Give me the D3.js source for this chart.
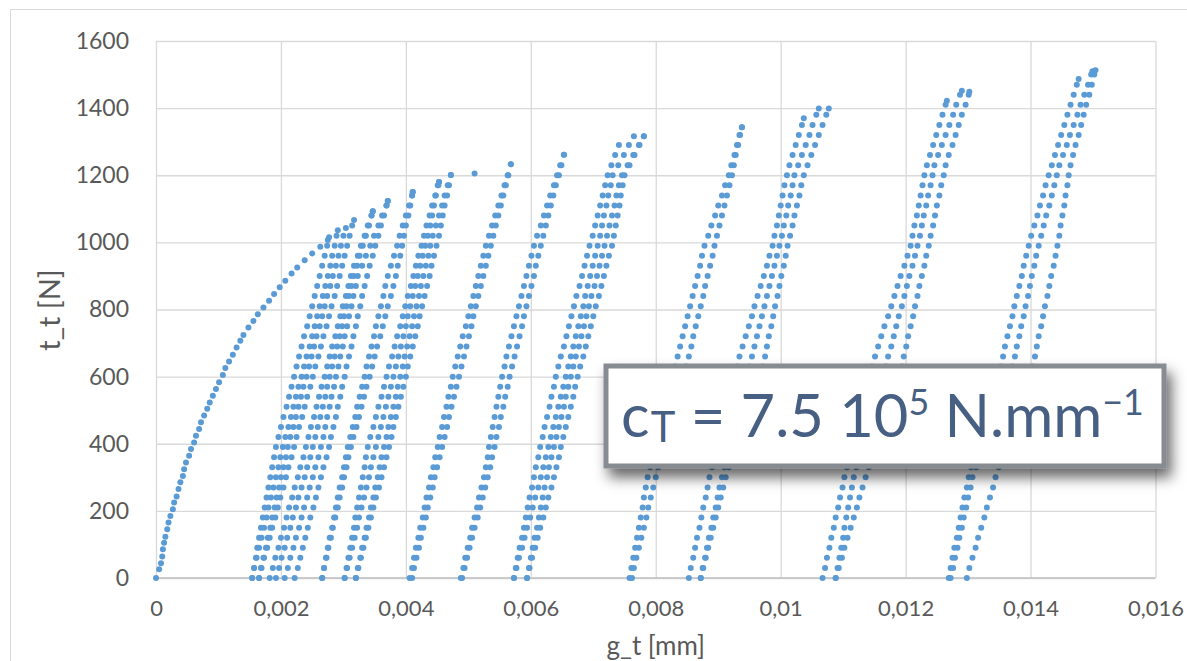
<!DOCTYPE html>
<html><head><meta charset="utf-8">
<script src="https://cdn.jsdelivr.net/npm/d3@7"></script>
<style>
body{margin:0;background:#fff;}
svg{display:block;font-family:Lato,"Open Sans",sans-serif;}
</style>
</head><body>
<svg id="chart" width="1187" height="661"></svg>
<script>
// ---------------- DATA (g_t in micrometres = 1e-3 mm, t_t in N) ----------------
const xTickValues = [0,0.002,0.004,0.006,0.008,0.01,0.012,0.014,0.016];
const xTickLabels = ["0","0,002","0,004","0,006","0,008","0,01","0,012","0,014","0,016"];
const yTickValues = [0,200,400,600,800,1000,1200,1400,1600];
const yTickLabels = ["0","200","400","600","800","1000","1200","1400","1600"];

// load levels of the recorded unloading / reloading branches
const loadSteps = [0,30,60,90,120,150,180,210,240,270,300,330,360,390,420,450,480,510,540,570,600,630,660,690,720,750,780,810,840,870,900,930,960,990,1020,1050,1080,1110,1140,1170,1200,1230,1260,1290,1320,1350,1380,1410,1440,1470,1500];

// first (virgin) loading curve
const virginG = [0,0.05,0.08,0.10,0.11,0.13,0.15,0.18,0.20,0.23,0.27,0.29,0.33,0.36,0.39,0.43,0.45,0.48,0.53,0.56,0.61,0.64,0.69,0.72,0.77,0.82,0.86,0.91,0.96,1.01,1.07,1.11,1.17,1.23,1.29,1.35,1.40,1.48,1.56,1.63,1.72,1.81,1.89,1.98,2.07,2.17,2.26,2.38,2.50,2.63,2.75];
const virginT = [0,26,44,64,86,105,123,145,165,185,205,225,243,265,285,304,324,344,364,384,404,424,444,464,484,504,523,543,563,583,605,626,645,665,687,707,724,746,766,786,806,826,846,866,886,907,925,947,967,987,1007];

// cycles: g values at loadSteps, plus peak [g, t] of each branch
const band1G = [
[1.54,1.57,1.60,1.62,1.65,1.68,1.71,1.74,1.77,1.80,1.83,1.86,1.89,1.92,1.96,2.00,2.04,2.09,2.13,2.17,2.21,2.25,2.29,2.33,2.37,2.42,2.46,2.50,2.54,2.58,2.62,2.66,2.70,2.74],
[1.54,1.57,1.61,1.65,1.69,1.73,1.77,1.80,1.84,1.88,1.92,1.96,1.99,2.03,2.07,2.12,2.16,2.20,2.24,2.28,2.33,2.37,2.41,2.46,2.50,2.54,2.58,2.62,2.67,2.71,2.75,2.79,2.82,2.86,2.89],
[1.65,1.68,1.72,1.76,1.79,1.83,1.86,1.90,1.93,1.97,2.00,2.04,2.08,2.11,2.15,2.20,2.24,2.28,2.32,2.36,2.41,2.45,2.49,2.53,2.57,2.62,2.66,2.70,2.74,2.79,2.83,2.88,2.92,2.96,3.00],
[1.65,1.69,1.73,1.78,1.82,1.86,1.91,1.95,1.99,2.04,2.08,2.12,2.17,2.21,2.25,2.29,2.34,2.38,2.42,2.47,2.51,2.55,2.60,2.64,2.68,2.73,2.77,2.81,2.86,2.90,2.94,2.98,3.02,3.06,3.10,3.14]
];
const band1Peak = [[2.77,1015],[2.91,1036],[3.04,1043],[3.17,1067]];

const band2G = [
[1.82,1.87,1.91,1.96,2.00,2.05,2.09,2.13,2.18,2.22,2.27,2.31,2.36,2.40,2.44,2.48,2.53,2.57,2.61,2.65,2.70,2.74,2.78,2.82,2.87,2.91,2.95,2.99,3.04,3.08,3.12,3.17,3.23,3.28,3.34,3.39,3.45],
[1.92,1.97,2.01,2.06,2.10,2.15,2.19,2.24,2.28,2.33,2.38,2.42,2.47,2.51,2.55,2.59,2.63,2.67,2.71,2.74,2.78,2.82,2.86,2.90,2.94,2.98,3.01,3.05,3.09,3.13,3.17,3.22,3.26,3.31,3.36,3.41,3.45],
[2.06,2.11,2.15,2.20,2.24,2.29,2.33,2.37,2.42,2.46,2.51,2.55,2.60,2.64,2.68,2.71,2.74,2.78,2.81,2.85,2.88,2.92,2.95,2.99,3.02,3.06,3.09,3.13,3.16,3.20,3.23,3.30,3.36,3.43,3.49,3.56,3.62,3.69],
[2.22,2.27,2.31,2.35,2.39,2.43,2.47,2.52,2.56,2.60,2.64,2.68,2.73,2.77,2.80,2.84,2.88,2.91,2.95,2.98,3.02,3.05,3.09,3.13,3.16,3.20,3.23,3.27,3.30,3.34,3.38,3.42,3.47,3.51,3.56,3.60,3.65,3.69]
];
const band2Peak = [[3.47,1093],[3.47,1093],[3.71,1123],[3.71,1123]];

const band3G = [
[2.66,2.69,2.72,2.75,2.78,2.82,2.85,2.88,2.91,2.94,2.98,3.01,3.04,3.07,3.11,3.15,3.19,3.22,3.26,3.30,3.34,3.37,3.41,3.45,3.49,3.52,3.56,3.60,3.64,3.67,3.71,3.76,3.81,3.86,3.90,3.95,4.00,4.05,4.10],
[2.66,2.69,2.73,2.76,2.80,2.83,2.87,2.91,2.94,2.98,3.01,3.05,3.08,3.12,3.16,3.21,3.25,3.29,3.33,3.37,3.42,3.46,3.50,3.54,3.59,3.63,3.67,3.71,3.76,3.80,3.84,3.87,3.91,3.94,3.97,4.00,4.04,4.07,4.10]
];
const band3Peak = [[4.11,1150],[4.11,1150]];

const band4G = [
[3.02,3.05,3.08,3.11,3.14,3.17,3.19,3.22,3.25,3.28,3.31,3.34,3.36,3.39,3.43,3.48,3.52,3.56,3.61,3.65,3.69,3.73,3.78,3.82,3.86,3.91,3.95,3.99,4.03,4.08,4.12,4.16,4.20,4.25,4.29,4.33,4.38,4.42,4.47,4.51],
[3.02,3.06,3.10,3.14,3.18,3.22,3.25,3.29,3.33,3.37,3.41,3.44,3.48,3.52,3.56,3.60,3.64,3.68,3.72,3.76,3.80,3.84,3.88,3.92,3.96,4.00,4.03,4.07,4.11,4.15,4.19,4.23,4.27,4.31,4.35,4.39,4.42,4.45,4.48,4.52],
[3.20,3.23,3.27,3.30,3.34,3.37,3.41,3.44,3.48,3.51,3.55,3.58,3.61,3.65,3.69,3.72,3.76,3.80,3.84,3.87,3.91,3.95,3.98,4.02,4.06,4.10,4.13,4.17,4.21,4.24,4.28,4.32,4.36,4.39,4.43,4.48,4.53,4.58,4.62,4.67],
[3.20,3.24,3.28,3.32,3.36,3.40,3.44,3.48,3.52,3.57,3.61,3.65,3.69,3.73,3.77,3.80,3.84,3.88,3.92,3.96,4.00,4.03,4.07,4.11,4.15,4.19,4.22,4.26,4.30,4.34,4.38,4.41,4.45,4.49,4.53,4.56,4.59,4.62,4.66,4.69]
];
const band4Peak = [[4.53,1180],[4.53,1180],[4.72,1201],[4.72,1201]];

const envelopeExtra = [[5.10,1205]];

const band5G = [
[4.06,4.10,4.13,4.16,4.20,4.23,4.27,4.30,4.33,4.37,4.40,4.44,4.47,4.51,4.54,4.58,4.61,4.65,4.68,4.72,4.75,4.79,4.83,4.87,4.91,4.96,5.00,5.04,5.08,5.12,5.16,5.20,5.24,5.28,5.33,5.38,5.43,5.48,5.53,5.58,5.63],
[4.10,4.13,4.17,4.21,4.24,4.28,4.32,4.35,4.39,4.43,4.46,4.50,4.54,4.58,4.62,4.66,4.69,4.73,4.77,4.81,4.85,4.89,4.93,4.97,5.01,5.05,5.08,5.12,5.16,5.20,5.24,5.28,5.32,5.36,5.40,5.44,5.48,5.52,5.56,5.60,5.64]
];
const band5Peak = [[5.68,1233],[5.68,1233]];

const band6G = [
[4.88,4.92,4.95,4.99,5.03,5.06,5.10,5.14,5.17,5.21,5.25,5.28,5.31,5.33,5.36,5.39,5.42,5.45,5.48,5.51,5.54,5.58,5.61,5.65,5.69,5.73,5.77,5.81,5.85,5.89,5.93,5.97,6.01,6.05,6.10,6.16,6.21,6.26,6.31,6.37,6.42,6.47],
[4.90,4.94,4.98,5.02,5.06,5.10,5.15,5.19,5.23,5.27,5.31,5.35,5.38,5.42,5.45,5.49,5.52,5.56,5.59,5.63,5.66,5.70,5.74,5.78,5.82,5.86,5.89,5.93,5.97,6.01,6.05,6.08,6.12,6.16,6.20,6.24,6.28,6.32,6.36,6.40,6.45,6.49]
];
const band6Peak = [[6.53,1261],[6.53,1261]];

const band7G = [
[5.73,5.76,5.79,5.82,5.86,5.89,5.92,5.95,5.98,6.02,6.05,6.08,6.12,6.15,6.19,6.22,6.26,6.30,6.33,6.37,6.40,6.44,6.48,6.53,6.57,6.61,6.65,6.69,6.73,6.78,6.82,6.86,6.90,6.94,6.99,7.03,7.07,7.11,7.15,7.19,7.23,7.29,7.35],
[5.73,5.77,5.81,5.86,5.90,5.94,5.99,6.03,6.07,6.12,6.16,6.20,6.24,6.28,6.32,6.36,6.40,6.44,6.48,6.52,6.56,6.60,6.64,6.68,6.72,6.76,6.80,6.84,6.87,6.91,6.95,6.99,7.03,7.07,7.11,7.14,7.17,7.21,7.24,7.28,7.31,7.40,7.49,7.57],
[5.94,5.97,6.00,6.03,6.06,6.10,6.13,6.16,6.19,6.22,6.26,6.29,6.33,6.37,6.41,6.45,6.49,6.53,6.56,6.60,6.64,6.68,6.72,6.77,6.81,6.85,6.89,6.93,6.97,7.02,7.06,7.10,7.14,7.18,7.22,7.26,7.30,7.34,7.37,7.41,7.46,7.55,7.64,7.73],
[5.94,5.98,6.02,6.07,6.11,6.15,6.20,6.24,6.28,6.33,6.37,6.41,6.45,6.48,6.52,6.56,6.60,6.64,6.68,6.71,6.75,6.79,6.84,6.88,6.92,6.96,7.00,7.04,7.09,7.13,7.17,7.21,7.25,7.30,7.33,7.36,7.39,7.42,7.44,7.47,7.50,7.58,7.66,7.74]
];
const band7Peak = [[7.41,1290],[7.65,1316],[7.81,1316],[7.81,1316]];

const band8G = [
[7.58,7.61,7.64,7.67,7.70,7.73,7.76,7.79,7.81,7.84,7.87,7.91,7.95,7.99,8.03,8.07,8.11,8.15,8.19,8.23,8.27,8.31,8.35,8.39,8.43,8.47,8.51,8.55,8.59,8.63,8.67,8.71,8.74,8.78,8.84,8.89,8.95,9.00,9.06,9.11,9.17,9.21,9.26,9.30,9.34],
[7.62,7.65,7.69,7.73,7.77,7.81,7.85,7.88,7.92,7.96,8.00,8.04,8.09,8.13,8.18,8.22,8.26,8.31,8.35,8.40,8.44,8.48,8.53,8.57,8.60,8.64,8.68,8.72,8.76,8.79,8.83,8.87,8.91,8.94,8.98,9.02,9.06,9.10,9.14,9.18,9.22,9.25,9.28,9.32,9.35]
];
const band8Peak = [[9.38,1343],[9.38,1343]];

const band9G = [
[8.53,8.56,8.60,8.63,8.66,8.70,8.73,8.76,8.80,8.83,8.86,8.90,8.94,8.98,9.02,9.06,9.10,9.14,9.18,9.22,9.26,9.30,9.34,9.39,9.44,9.49,9.54,9.58,9.63,9.68,9.73,9.78,9.82,9.87,9.90,9.94,9.97,10.00,10.03,10.06,10.10,10.14,10.19,10.24,10.29,10.34],
[8.72,8.75,8.79,8.82,8.85,8.89,8.92,8.96,8.99,9.02,9.06,9.10,9.14,9.18,9.22,9.26,9.30,9.34,9.38,9.42,9.46,9.50,9.54,9.58,9.62,9.66,9.70,9.74,9.78,9.82,9.86,9.90,9.94,9.98,10.02,10.05,10.09,10.12,10.16,10.19,10.22,10.28,10.34,10.40,10.46,10.51,10.57],
[8.72,8.76,8.80,8.84,8.88,8.92,8.96,9.00,9.04,9.08,9.12,9.17,9.23,9.28,9.34,9.39,9.44,9.50,9.55,9.61,9.66,9.71,9.75,9.78,9.81,9.85,9.88,9.91,9.95,9.98,10.01,10.05,10.08,10.11,10.15,10.19,10.22,10.26,10.30,10.33,10.37,10.43,10.49,10.55,10.61,10.67,10.73]
];
const band9Peak = [[10.37,1370],[10.61,1399],[10.77,1399]];

const band10G = [
[10.67,10.71,10.74,10.78,10.81,10.85,10.88,10.92,10.95,10.99,11.02,11.06,11.10,11.14,11.18,11.22,11.26,11.30,11.34,11.38,11.42,11.46,11.51,11.56,11.61,11.66,11.72,11.77,11.82,11.87,11.92,11.98,12.03,12.08,12.11,12.14,12.18,12.21,12.24,12.27,12.30,12.34,12.39,12.44,12.49,12.54,12.59,12.64],
[10.88,10.91,10.94,10.97,11.00,11.02,11.05,11.08,11.11,11.14,11.17,11.21,11.26,11.31,11.35,11.40,11.45,11.49,11.54,11.59,11.63,11.68,11.72,11.77,11.81,11.85,11.89,11.94,11.98,12.02,12.06,12.11,12.15,12.19,12.23,12.26,12.29,12.33,12.36,12.40,12.43,12.46,12.52,12.58,12.64,12.70,12.76,12.81,12.87],
[10.88,10.93,10.98,11.02,11.07,11.12,11.17,11.22,11.26,11.31,11.36,11.41,11.46,11.52,11.57,11.62,11.67,11.73,11.78,11.83,11.88,11.94,11.97,12.01,12.04,12.08,12.12,12.15,12.19,12.22,12.26,12.30,12.33,12.37,12.40,12.44,12.47,12.50,12.54,12.57,12.61,12.64,12.69,12.75,12.80,12.85,12.90,12.96,13.01]
];
const band10Peak = [[12.66,1422],[12.90,1452],[13.02,1449]];

const band11G = [
[12.69,12.72,12.75,12.78,12.82,12.85,12.88,12.91,12.94,12.98,13.01,13.05,13.10,13.15,13.19,13.24,13.29,13.33,13.38,13.43,13.47,13.52,13.56,13.59,13.63,13.67,13.71,13.74,13.78,13.82,13.86,13.89,13.93,13.97,14.01,14.06,14.11,14.15,14.20,14.24,14.29,14.34,14.39,14.44,14.49,14.54,14.59,14.64,14.69,14.74],
[12.72,12.76,12.79,12.83,12.86,12.90,12.93,12.97,13.00,13.04,13.07,13.13,13.19,13.25,13.30,13.36,13.42,13.48,13.54,13.60,13.65,13.71,13.75,13.78,13.82,13.85,13.89,13.92,13.96,13.99,14.02,14.06,14.09,14.13,14.17,14.21,14.25,14.30,14.34,14.38,14.42,14.46,14.52,14.58,14.63,14.69,14.75,14.80,14.86,14.92,14.97],
[12.98,13.02,13.07,13.12,13.16,13.21,13.26,13.30,13.35,13.40,13.44,13.49,13.55,13.60,13.66,13.71,13.76,13.82,13.87,13.92,13.98,14.03,14.07,14.10,14.13,14.17,14.20,14.23,14.27,14.30,14.33,14.37,14.40,14.43,14.46,14.48,14.51,14.54,14.56,14.59,14.61,14.64,14.68,14.72,14.77,14.81,14.85,14.89,14.94,14.98,15.02]
];
const band11Peak = [[14.77,1487],[14.99,1510],[15.04,1513]];

const annotationParts = ["c","T"," = 7.5 10","5"," N.mm","\u22121"];

// ---------------- DRAWING ----------------
const svg = d3.select("#chart");
const x = d3.scaleLinear().domain([0, 0.016]).range([156, 1155.5]);
const y = d3.scaleLinear().domain([0, 1600]).range([578, 41]);
const textColor = "#595959";

// chart border
svg.append("rect").attr("x", 10.5).attr("y", 9.5).attr("width", 1200).attr("height", 700)
  .attr("fill", "#fff").attr("stroke", "#d9d9d9").attr("stroke-width", 1);

// horizontal gridlines + y labels
const yAxis = svg.append("g").attr("transform", `translate(${x(0)},0)`)
  .call(d3.axisLeft(y).tickValues(yTickValues)
    .tickFormat((d, i) => yTickLabels[i])
    .tickSize(-(x(0.016) - x(0))).tickPadding(27));
yAxis.select(".domain").remove();
yAxis.selectAll(".tick line").attr("stroke", "#d9d9d9").attr("stroke-width", 1.3);
yAxis.selectAll(".tick text").attr("fill", textColor)
  .style("font-size", "23px").style("font-family", "Lato, 'Open Sans', sans-serif");

// vertical gridlines + x labels
const xAxis = svg.append("g").attr("transform", `translate(0,${y(0)})`)
  .call(d3.axisBottom(x).tickValues(xTickValues)
    .tickFormat((d, i) => xTickLabels[i])
    .tickSize(-(y(0) - y(1600))).tickPadding(22));
xAxis.select(".domain").remove();
xAxis.selectAll(".tick line").attr("stroke", "#d9d9d9").attr("stroke-width", 1.3);
xAxis.selectAll(".tick text").attr("fill", textColor)
  .style("font-size", "22px").style("font-family", "Lato, 'Open Sans', sans-serif");

// bottom axis line
svg.append("line").attr("x1", x(0)).attr("x2", x(0.016)).attr("y1", y(0)).attr("y2", y(0))
  .attr("stroke", "#bfbfbf").attr("stroke-width", 1.5);

// axis titles
svg.append("text").attr("x", (x(0) + x(0.016)) / 2).attr("y", 655)
  .attr("text-anchor", "middle").attr("fill", textColor)
  .style("font-size", "26px").text("g_t [mm]");
svg.append("text").attr("transform", "translate(60,310) rotate(-90)")
  .attr("text-anchor", "middle").attr("fill", textColor)
  .style("font-size", "29px").text("t_t [N]");

// collect points
const pts = [];
virginG.forEach((g, i) => pts.push([g, virginT[i]]));
const bands = [band1G, band2G, band3G, band4G, band5G, band6G, band7G, band8G, band9G, band10G, band11G];
const bandPeaks = [band1Peak, band2Peak, band3Peak, band4Peak, band5Peak, band6Peak, band7Peak, band8Peak, band9Peak, band10Peak, band11Peak];
bands.forEach((band, b) => band.forEach((line, l) => {
  line.forEach((g, i) => pts.push([g, loadSteps[i]]));
  pts.push(bandPeaks[b][l]);
}));
envelopeExtra.forEach(p => pts.push(p));

svg.append("g").selectAll("circle").data(pts).join("circle")
  .attr("cx", d => x(d[0] / 1000))
  .attr("cy", d => y(d[1]))
  .attr("r", 3)
  .attr("fill", "#5b9bd5");

// annotation box
const defs = svg.append("defs");
const f = defs.append("filter").attr("id", "shadow")
  .attr("x", "-10%").attr("y", "-30%").attr("width", "130%").attr("height", "180%");
f.append("feDropShadow").attr("dx", 5).attr("dy", 9).attr("stdDeviation", 7)
  .attr("flood-color", "#000").attr("flood-opacity", 0.6);

svg.append("rect").attr("x", 606).attr("y", 366).attr("width", 558).attr("height", 100)
  .attr("fill", "#fff").attr("stroke", "#878c92").attr("stroke-width", 5)
  .attr("filter", "url(#shadow)");

// annotation text: font size set by glyph height, then squeezed horizontally to the box width
const F = 60;
const ann = svg.append("text").attr("id", "ann")
  .attr("fill", "#475f82").style("font-family", "Lato, 'Open Sans', sans-serif");
const sizes = [1, 0.7, 1, 0.6, 1, 0.6];
const dys = [0, 0.09, -0.09, -0.36, 0.36, -0.36];
annotationParts.forEach((p, i) => {
  ann.append("tspan").style("font-size", (F * sizes[i]) + "px")
    .attr("dy", F * dys[i])
    .attr("dx", i === 1 ? F * 0.02 : 0)
    .text(p);
});
const wText = ann.node().getBBox().width;
const sx = 523 / wText;
ann.attr("transform", `translate(621,437) scale(${sx},1)`);
</script>
</body></html>
